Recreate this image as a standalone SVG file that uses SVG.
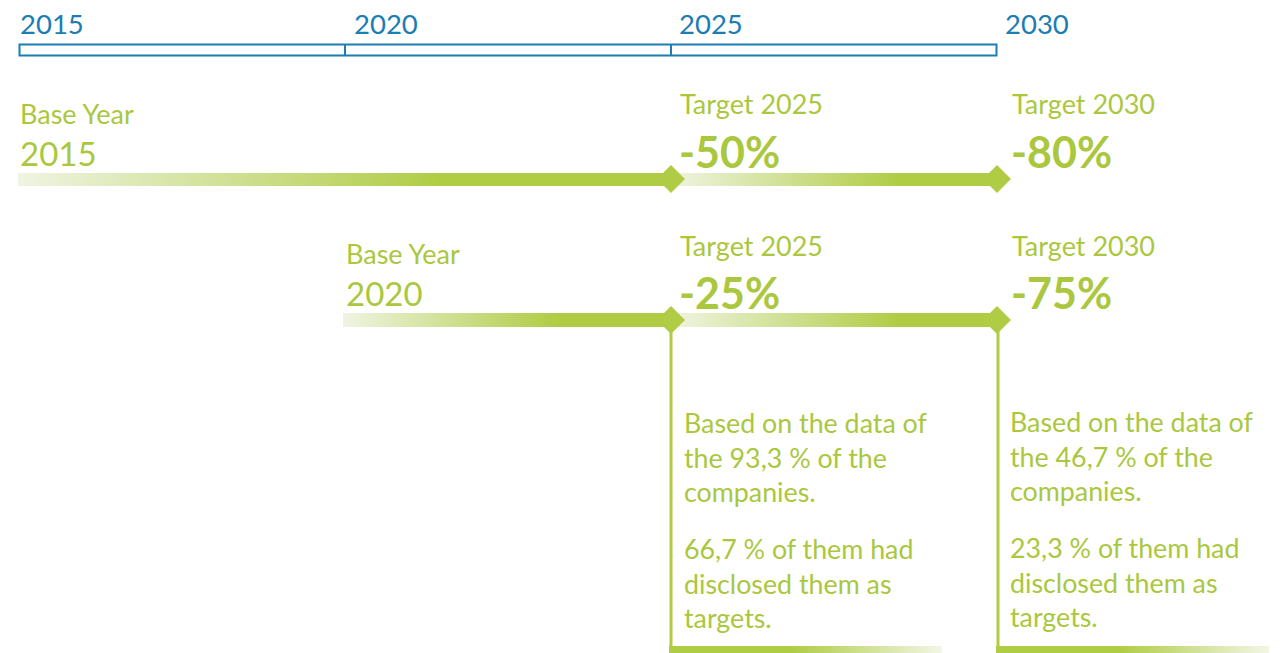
<svg xmlns="http://www.w3.org/2000/svg" width="1281" height="653" viewBox="0 0 1281 653">
<style>
.yr{font-family:Lato,"Open Sans","Liberation Sans",sans-serif;font-size:27.5px;fill:#1b7db3}
.lbl{font-family:Lato,"Open Sans","Liberation Sans",sans-serif;font-size:27px;fill:#aac73e}
.big{font-family:Lato,"Open Sans","Liberation Sans",sans-serif;font-size:33px;fill:#aac73e}
.pct{font-family:Lato,"Open Sans","Liberation Sans",sans-serif;font-size:43px;font-weight:bold;fill:#aac73e}
.body{font-family:Lato,"Open Sans","Liberation Sans",sans-serif;font-size:26.8px;fill:#aac73e}
.dia{fill:#b0cc44}
.vl{stroke:#b0cc44;stroke-width:3;fill:none}
</style>
<defs>
<linearGradient id="g1" x1="0" y1="0" x2="1" y2="0"><stop offset="0" stop-color="#eff4e2"/><stop offset="0.65" stop-color="#b0cc44"/><stop offset="1" stop-color="#b0cc44"/></linearGradient>
<linearGradient id="g2" x1="0" y1="0" x2="1" y2="0"><stop offset="0" stop-color="#eff4e2"/><stop offset="0.7" stop-color="#b0cc44"/><stop offset="1" stop-color="#b0cc44"/></linearGradient>
<linearGradient id="g3" x1="0" y1="0" x2="1" y2="0"><stop offset="0" stop-color="#b0cc44"/><stop offset="0.45" stop-color="#b0cc44"/><stop offset="1" stop-color="#f2f6e6"/></linearGradient>
</defs>
<g id="timeline">
<rect x="19.5" y="44.5" width="977" height="11" fill="none" stroke="#1b7db3" stroke-width="2"/>
<line x1="345" y1="44" x2="345" y2="56" stroke="#1b7db3" stroke-width="2"/>
<line x1="671" y1="44" x2="671" y2="56" stroke="#1b7db3" stroke-width="2"/>
<text class="yr" x="20" y="34">2015</text>
<text class="yr" x="354" y="34">2020</text>
<text class="yr" x="679" y="34">2025</text>
<text class="yr" x="1005" y="34">2030</text>
</g>
<g id="connectors">
<rect x="18" y="173" width="653" height="13" fill="url(#g1)"/>
<rect x="671" y="173" width="326" height="13" fill="url(#g2)"/>
<rect x="343" y="313" width="328" height="14" fill="url(#g1)"/>
<rect x="671" y="313" width="326" height="14" fill="url(#g2)"/>
<line class="vl" x1="671" y1="320" x2="671" y2="653"/>
<line class="vl" x1="998" y1="320" x2="998" y2="653"/>
<rect x="669" y="646" width="273" height="7" fill="url(#g3)"/>
<rect x="996" y="646" width="273" height="7" fill="url(#g3)"/>
</g>
<g id="base2015">
<text class="lbl" x="20" y="124">Base Year</text>
<text class="big" x="20" y="166">2015</text>
</g>
<g id="target2025a">
<polygon class="dia" points="671,165 685,179 671,193 657,179"/>
<text class="lbl" x="680" y="114">Target 2025</text>
<text class="pct" x="679" y="168">-50%</text>
</g>
<g id="target2030a">
<polygon class="dia" points="997,165 1011,179 997,193 983,179"/>
<text class="lbl" x="1012" y="114">Target 2030</text>
<text class="pct" x="1011" y="168">-80%</text>
</g>
<g id="base2020">
<text class="lbl" x="346" y="264">Base Year</text>
<text class="big" x="346" y="306">2020</text>
</g>
<g id="target2025b">
<polygon class="dia" points="671,306 685,320 671,334 657,320"/>
<text class="lbl" x="680" y="256">Target 2025</text>
<text class="pct" x="679" y="309">-25%</text>
</g>
<g id="target2030b">
<polygon class="dia" points="997,306 1011,320 997,334 983,320"/>
<text class="lbl" x="1012" y="256">Target 2030</text>
<text class="pct" x="1011" y="309">-75%</text>
</g>
<g id="note2025">
<text class="body" x="684" y="433">Based on the data of</text>
<text class="body" x="684" y="468">the 93,3 % of the</text>
<text class="body" x="684" y="502">companies.</text>
<text class="body" x="684" y="559">66,7 % of them had</text>
<text class="body" x="684" y="594">disclosed them as</text>
<text class="body" x="684" y="628">targets.</text>
</g>
<g id="note2030">
<text class="body" x="1010" y="432">Based on the data of</text>
<text class="body" x="1010" y="467">the 46,7 % of the</text>
<text class="body" x="1010" y="501">companies.</text>
<text class="body" x="1010" y="558">23,3 % of them had</text>
<text class="body" x="1010" y="593">disclosed them as</text>
<text class="body" x="1010" y="627">targets.</text>
</g>
</svg>
